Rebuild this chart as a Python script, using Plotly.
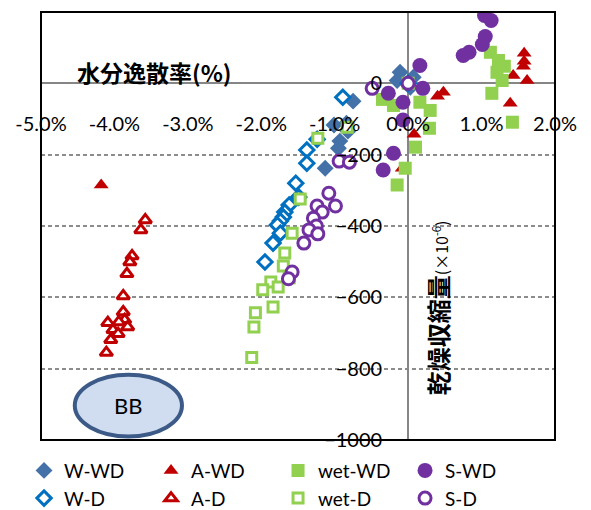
import plotly.graph_objects as go

# Water loss rate (%) vs drying shrinkage (x10^-6) for each curing series
w_wd_x = [-0.11, -0.15, 0.03, 0.07, -0.75, -0.84, -1.01, -0.93, -0.82, -0.95, -1.13]
w_wd_y = [31, 8, -11, 17, -50, -112, -117, -162, -134, -182, -238]

a_wd_x = [-4.18, 0.48, 0.40, 0.08, -0.08, -0.31, 1.58, 1.58, 1.57, 1.43, 1.62, 1.39]
a_wd_y = [-285, -25, -36, -143, -238, -45, 84, 62, 48, 22, 8, -56]

wet_wd_x = [-0.35, -0.20, 0.16, 0.30, 0.29, 0.10, -0.04, -0.15, 1.12, 1.23, 1.31, 1.21, 1.28, 1.14, 1.42]
wet_wd_y = [-45, -62, -53, -76, -126, -179, -238, -285, 87, 64, 48, 31, 8, -28, -109]

s_wd_x = [1.04, 1.13, 1.05, 1.01, 0.83, 0.75, 0.16, 0.20, -0.27, -0.07, -0.07, -0.20, -0.34]
s_wd_y = [190, 176, 131, 109, 87, 78, 50, -14, -28, -53, -103, -196, -243]

w_d_x = [0.0, -0.89, -1.24, -1.38, -1.38, -1.53, -1.49, -1.62, -1.68, -1.70, -1.74, -1.78, -1.74, -1.84, -1.95]
w_d_y = [0, -39, -157, -187, -224, -280, -319, -341, -361, -375, -386, -397, -420, -448, -501]

a_d_x = [0.0, -3.58, -3.64, -3.76, -3.79, -3.83, -3.88, -3.88, -3.86, -3.82, -3.94, -4.09, -4.02, -3.95, -4.05, -4.11]
a_d_y = [0, -383, -411, -484, -501, -534, -596, -641, -663, -683, -669, -671, -691, -702, -719, -755]

wet_d_x = [0.0, -0.83, -1.23, -1.47, -1.58, -1.68, -1.70, -1.87, -1.98, -1.77, -1.62, -1.84, -2.08, -2.10, -2.13]
wet_d_y = [0, -123, -154, -324, -420, -476, -512, -557, -579, -571, -545, -627, -643, -683, -769]

s_d_x = [0.0, -0.49, -0.94, -0.80, -1.08, -0.99, -1.24, -1.17, -1.29, -1.25, -1.35, -1.23, -1.42, -1.58, -1.63]
s_d_y = [0, -14, -218, -221, -308, -344, -344, -361, -378, -400, -411, -422, -448, -529, -548]

x_ticks = [-5, -4, -3, -2, -1, 0, 1, 2]
x_tick_labels = ["-5.0%", "-4.0%", "-3.0%", "-2.0%", "-1.0%", "0.0%", "1.0%", "2.0%"]
y_ticks = [200, 0, -200, -400, -600, -800, -1000]

BLUE_DARK = "#4472A8"
BLUE = "#0070C0"
RED = "#C00000"
GREEN = "#92D050"
PURPLE = "#7030A0"

series = [
    ("W-WD", w_wd_x, w_wd_y, dict(symbol="diamond", size=13, color=BLUE_DARK)),
    ("A-WD", a_wd_x, a_wd_y, dict(symbol="triangle-up", size=13, color=RED)),
    ("wet-WD", wet_wd_x, wet_wd_y, dict(symbol="square", size=13, color=GREEN)),
    ("S-WD", s_wd_x, s_wd_y, dict(symbol="circle", size=15, color=PURPLE)),
    ("W-D", w_d_x, w_d_y, dict(symbol="diamond", size=11, color="white",
                               line=dict(color=BLUE, width=3))),
    ("A-D", a_d_x, a_d_y, dict(symbol="triangle-up", size=11, color="white",
                               line=dict(color=RED, width=3))),
    ("wet-D", wet_d_x, wet_d_y, dict(symbol="square", size=10, color="white",
                                     line=dict(color=GREEN, width=3))),
    ("S-D", s_d_x, s_d_y, dict(symbol="circle", size=12, color="white",
                               line=dict(color=PURPLE, width=3))),
]

fig = go.Figure()
for name, xs, ys, mk in series:
    fig.add_trace(go.Scatter(x=xs, y=ys, mode="markers", name=name, marker=mk))

tick_font = dict(family="Lato", size=20, color="black")

fig.update_layout(
    width=591,
    height=510,
    margin=dict(l=41, r=36, t=12, b=70, autoexpand=False),
    paper_bgcolor="white",
    plot_bgcolor="white",
    showlegend=True,
    xaxis=dict(
        range=[-5, 2],
        tickmode="array",
        tickvals=x_ticks,
        ticktext=x_tick_labels,
        anchor="free",
        position=1000 / 1200,
        showgrid=False,
        showline=False,
        ticks="",
        zeroline=True,
        zerolinecolor="#868686",
        zerolinewidth=1.5,
        ticklabelstandoff=27,
        tickfont=tick_font,
    ),
    yaxis=dict(
        range=[-1000, 200],
        tickvals=y_ticks,
        anchor="free",
        position=5 / 7,
        showgrid=True,
        gridcolor="#8C8C8C",
        gridwidth=1.5,
        griddash="4px,3px",
        showline=False,
        ticks="",
        zeroline=True,
        zerolinecolor="#868686",
        zerolinewidth=1.5,
        ticklabelstandoff=26,
        tickfont=tick_font,
    ),
    legend=dict(
        orientation="h",
        x=-0.033,
        y=-0.027,
        xanchor="left",
        yanchor="top",
        font=dict(family="Lato", size=19, color="black"),
        entrywidthmode="pixels",
        entrywidth=82,
        bgcolor="rgba(0,0,0,0)",
    ),
    shapes=[
        dict(type="rect", xref="paper", yref="paper", x0=0, x1=1, y0=0, y1=1,
             line=dict(color="black", width=2), layer="above"),
        dict(type="circle", xref="x", yref="y", x0=-4.54, x1=-3.08, y0=-817, y1=-990,
             line=dict(color="#3C5A87", width=4), fillcolor="#D0DCEF", layer="above"),
    ],
    annotations=[
        dict(text="<b>水分逸散率(%)</b>", x=-3.45, y=31, xref="x", yref="y",
             showarrow=False, xanchor="center", yanchor="middle",
             font=dict(family="Noto Sans CJK JP", size=23, color="black")),
        dict(text="<b>乾燥収縮量</b><span style='font-size:16px'>(×10<sup>-6</sup>)</span>",
             x=0.40, y=-629, xref="x", yref="y", textangle=-90,
             showarrow=False, xanchor="center", yanchor="middle",
             font=dict(family="Noto Sans CJK JP", size=24, color="black")),
        dict(text="BB", x=-3.81, y=-903, xref="x", yref="y", showarrow=False,
             font=dict(family="Lato", size=22, color="black")),
    ],
)

fig.write_html("out.html")
